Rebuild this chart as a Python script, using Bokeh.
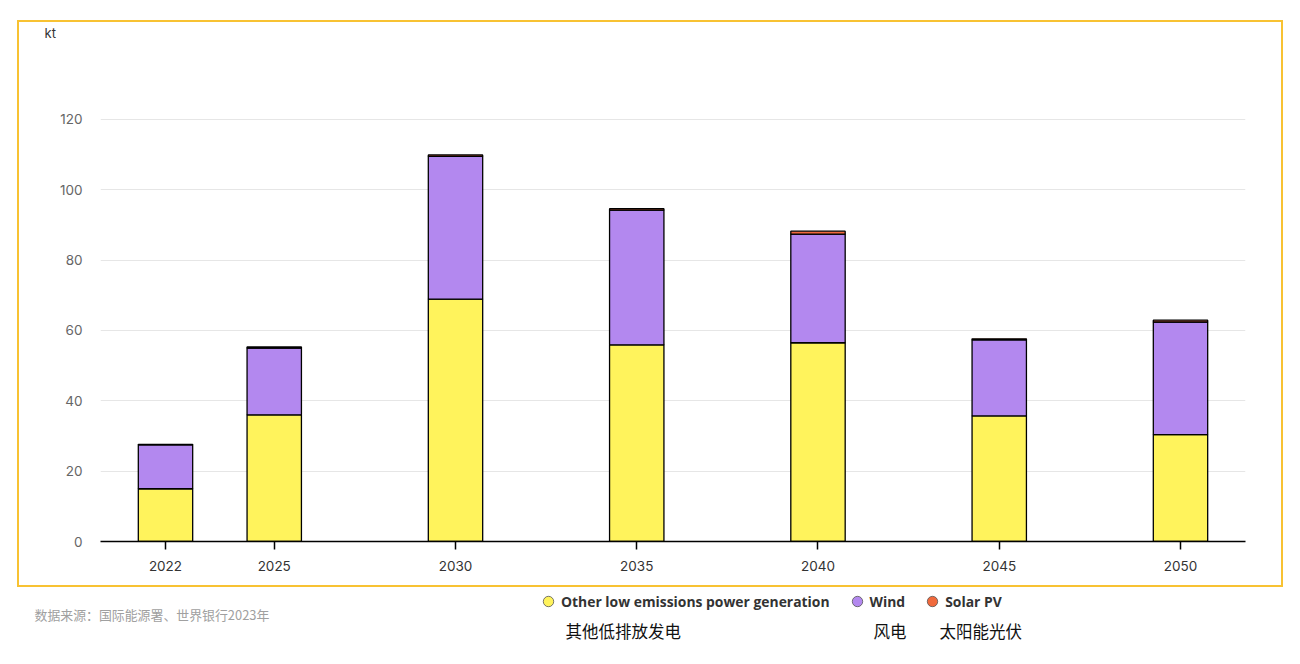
from bokeh.plotting import figure
from bokeh.layouts import column
from bokeh.models import (Range1d, FixedTicker, Label, Legend, LegendItem, ColumnDataSource)
from bokeh.embed import file_html
from bokeh.resources import INLINE

# ---------------- data ----------------
years = [2022, 2025, 2030, 2035, 2040, 2045, 2050]
other_low = [15.0, 36.0, 68.9, 55.9, 56.5, 35.7, 30.4]
wind = [12.5, 19.0, 40.6, 38.3, 30.9, 21.6, 32.0]
solar_pv = [0.1, 0.3, 0.4, 0.4, 0.8, 0.3, 0.5]
series_names = ["Other low emissions power generation", "Wind", "Solar PV"]
series_names_cn = ["其他低排放发电", "风电", "太阳能光伏"]
y_ticks = [0, 20, 40, 60, 80, 100, 120]
unit_label = "kt"
source_note = "数据来源：国际能源署、世界银行2023年"

colors = ["#fff35c", "#b388ef", "#f0693c"]
FONT = "Inter"

PX_PER_YEAR = 36.25
PX_PER_UNIT = 3.525
X0 = 2020.207
FRAME_H = 541 - 40
X1 = X0 + (1245 - 100) / PX_PER_YEAR
Y1 = FRAME_H / PX_PER_UNIT

src = ColumnDataSource(dict(year=years, other=other_low, wind=wind, solar=solar_pv))

# ---------------- main chart (inside yellow box) ----------------
p = figure(width=1262, height=563, output_backend="svg", toolbar_location=None,
           x_range=Range1d(X0, X1), y_range=Range1d(0, Y1),
           min_border_left=81, min_border_right=36, min_border_top=18, min_border_bottom=44,
           title=unit_label)
p.outline_line_color = None
p.background_fill_color = "white"
p.border_fill_color = "white"
p.title.text_font = FONT
p.title.text_font_size = "13px"
p.title.text_font_style = "normal"
p.title.text_color = "#333333"
p.title.align = "left"
p.title.offset = -56
p.title.standoff = 1

p.vbar_stack(["other", "wind", "solar"], x="year", width=1.5, source=src,
             color=colors, line_color="black", line_width=1.3)

p.xaxis.ticker = FixedTicker(ticks=years)
p.xaxis.minor_tick_line_color = None
p.xaxis.axis_line_color = "black"
p.xaxis.axis_line_width = 1.5
p.xaxis.major_tick_line_color = "black"
p.xaxis.major_tick_line_width = 1.5
p.xaxis.major_tick_out = 8
p.xaxis.major_tick_in = 0
p.xaxis.major_label_standoff = 11
p.xaxis.major_label_text_font = FONT
p.xaxis.major_label_text_font_size = "13.5px"
p.xaxis.major_label_text_color = "#333333"

p.yaxis.ticker = FixedTicker(ticks=y_ticks)
p.yaxis.axis_line_color = None
p.yaxis.major_tick_line_color = None
p.yaxis.minor_tick_line_color = None
p.yaxis.major_label_standoff = 12
p.yaxis.major_label_text_font = FONT
p.yaxis.major_label_text_font_size = "13.5px"
p.yaxis.major_label_text_color = "#666666"

p.xgrid.grid_line_color = None
p.ygrid.grid_line_color = "#e6e6e6"
p.ygrid.grid_line_width = 1

box = column(p, margin=(20, 0, 0, 17), styles={"border": "2px solid #f8c232"})

# ---------------- legend strip below ----------------
LH = 69
q = figure(width=1292, height=LH, output_backend="svg", toolbar_location=None,
           x_range=Range1d(0, 1292), y_range=Range1d(LH, 0),
           min_border=0, min_border_left=0, min_border_right=0, min_border_top=0, min_border_bottom=0)
q.axis.visible = False
q.grid.visible = False
q.outline_line_color = None
q.background_fill_color = "white"
q.border_fill_color = "white"

items = []
for name, c in zip(series_names, colors):
    r = q.scatter(x=[-100], y=[-100], marker="circle", fill_color=c, line_color="#555555",
                  line_width=0.8)
    items.append(LegendItem(label=name, renderers=[r]))
legend = Legend(items=items, orientation="horizontal", location=(535, 42),
                glyph_width=26, glyph_height=26, label_standoff=0, spacing=14, padding=0,
                margin=0, label_text_font="Open Sans", label_text_font_style="bold",
                label_text_font_size="13.9px", label_text_color="#333333", label_height=26,
                border_line_color=None, background_fill_alpha=0)
q.add_layout(legend, "center")

for txt, px in zip(series_names_cn, [565, 873, 939]):
    q.add_layout(Label(x=px, y=630 - 587, text=txt, text_font="Noto Sans CJK SC",
                       text_font_size="16.5px", text_color="#111111", text_baseline="middle",
                       text_align="left"))

q.add_layout(Label(x=34, y=614 - 587, text=source_note, text_font="Noto Sans CJK SC",
                   text_font_size="12.9px", text_color="#a0a0a0", text_baseline="middle",
                   text_align="left"))

open("out.html", "w").write(file_html([box, q], INLINE))
